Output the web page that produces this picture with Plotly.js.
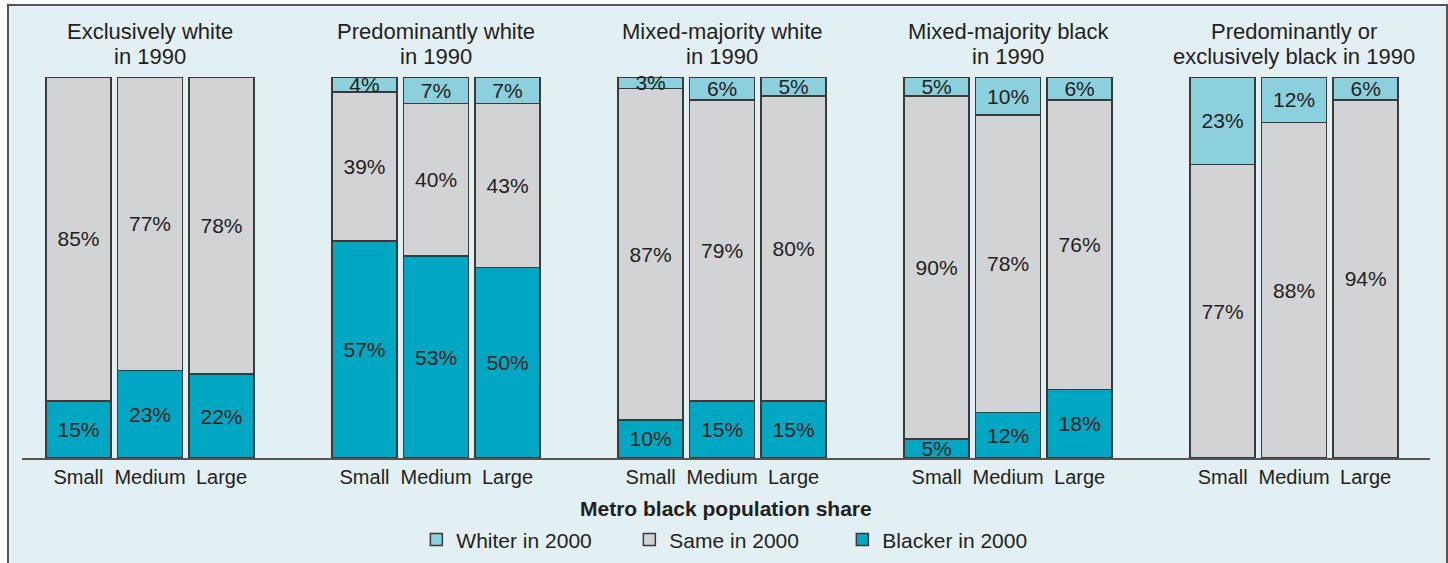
<!DOCTYPE html>
<html>
<head>
<meta charset="utf-8">
<script src="https://cdn.plot.ly/plotly-3.0.1.min.js"></script>
<style>
  html, body { margin: 0; padding: 0; background: #ffffff; width: 1448px; height: 563px; overflow: hidden; }
  #frame { position: absolute; left: 7px; top: 4px; width: 1441px; height: 620px; box-sizing: border-box;
           border: 2px solid #555555; background: #e2eff3; }
  #chart { position: absolute; left: 0; top: 0; width: 1448px; height: 563px; }
</style>
</head>
<body>
<div id="frame"></div>
<div id="chart"></div>
<script>
// ---- data ----
const groups = [
  'Exclusively white<br>in 1990',
  'Predominantly white<br>in 1990',
  'Mixed-majority white<br>in 1990',
  'Mixed-majority black<br>in 1990',
  'Predominantly or<br>exclusively black in 1990'
];
const sizes = ['Small', 'Medium', 'Large'];
const whiter  = [0, 0, 0,   4, 7, 7,    3, 6, 5,    5, 10, 6,   23, 12, 6];
const same    = [85, 77, 78, 39, 40, 43, 87, 79, 80, 90, 78, 76, 77, 88, 94];
const blacker = [15, 23, 22, 57, 53, 50, 10, 15, 15, 5, 12, 18,  0, 0, 0];
const seriesNames = ['Whiter in 2000', 'Same in 2000', 'Blacker in 2000'];
const axisTitle = 'Metro black population share';

// ---- layout helpers ----
const GROUP_STEP = 4;
const xs = [], tickText = [];
groups.forEach((g, gi) => sizes.forEach((s, si) => { xs.push(gi * GROUP_STEP + si); tickText.push(s); }));
const pct = arr => arr.map(v => v > 0 ? v + '%' : '');

const txtColor = '#231f20';
const lineStyle = { color: '#3a3a3a', width: 1.5 };
const common = {
  type: 'bar', x: xs, width: 0.91,
  textposition: 'inside', insidetextanchor: 'middle', textangle: 0,
  textfont: { size: 21, color: txtColor },
  hoverinfo: 'skip', cliponaxis: false
};
const traces = [
  Object.assign({}, common, { name: seriesNames[2], y: blacker, text: pct(blacker),
    marker: { color: '#00a7c2', line: lineStyle } }),
  Object.assign({}, common, { name: seriesNames[1], y: same, text: pct(same),
    marker: { color: '#d2d3d5', line: lineStyle } }),
  Object.assign({}, common, { name: seriesNames[0], y: whiter, text: pct(whiter),
    marker: { color: '#8ccfdd', line: lineStyle } })
];

const annotations = [];
groups.forEach((g, gi) => {
  const lines = g.split('<br>');
  lines.forEach((ln, li) => annotations.push({
    text: ln, x: gi * GROUP_STEP + 1, xref: 'x', y: 1, yref: 'paper',
    xanchor: 'center', yanchor: 'middle', yshift: 77 - 31 - li * 25, showarrow: false,
    font: { size: 22, color: txtColor }
  }));
});
annotations.push({
  text: '<b>' + axisTitle + '</b>', x: 0.5, xref: 'paper', y: 0, yref: 'paper',
  xanchor: 'center', yanchor: 'middle', yshift: -50, showarrow: false,
  font: { size: 21, color: txtColor }
});

const layout = {
  width: 1448, height: 563,
  margin: { l: 22, r: 18, t: 77, b: 105 },
  paper_bgcolor: 'rgba(0,0,0,0)', plot_bgcolor: 'rgba(0,0,0,0)',
  font: { family: '"Liberation Sans", Arial, sans-serif', color: txtColor },
  barmode: 'stack',
  uniformtext: { minsize: 21, mode: 'show' },
  xaxis: {
    range: [-0.79, 18.9], tickvals: xs, ticktext: tickText,
    showgrid: false, zeroline: false, showline: true, linecolor: '#555555', linewidth: 1.5,
    ticks: '', tickfont: { size: 20, color: txtColor }, fixedrange: true
  },
  yaxis: { range: [0, 100], visible: false, fixedrange: true },
  showlegend: true,
  legend: {
    orientation: 'h', traceorder: 'reversed', x: 0.507, xanchor: 'center',
    yref: 'container', y: 0.041, yanchor: 'middle',
    font: { size: 21, color: txtColor }, bgcolor: 'rgba(0,0,0,0)', entrywidth: 168
  },
  annotations: annotations
};

Plotly.newPlot('chart', traces, layout, { staticPlot: true, displayModeBar: false });
</script>
</body>
</html>
